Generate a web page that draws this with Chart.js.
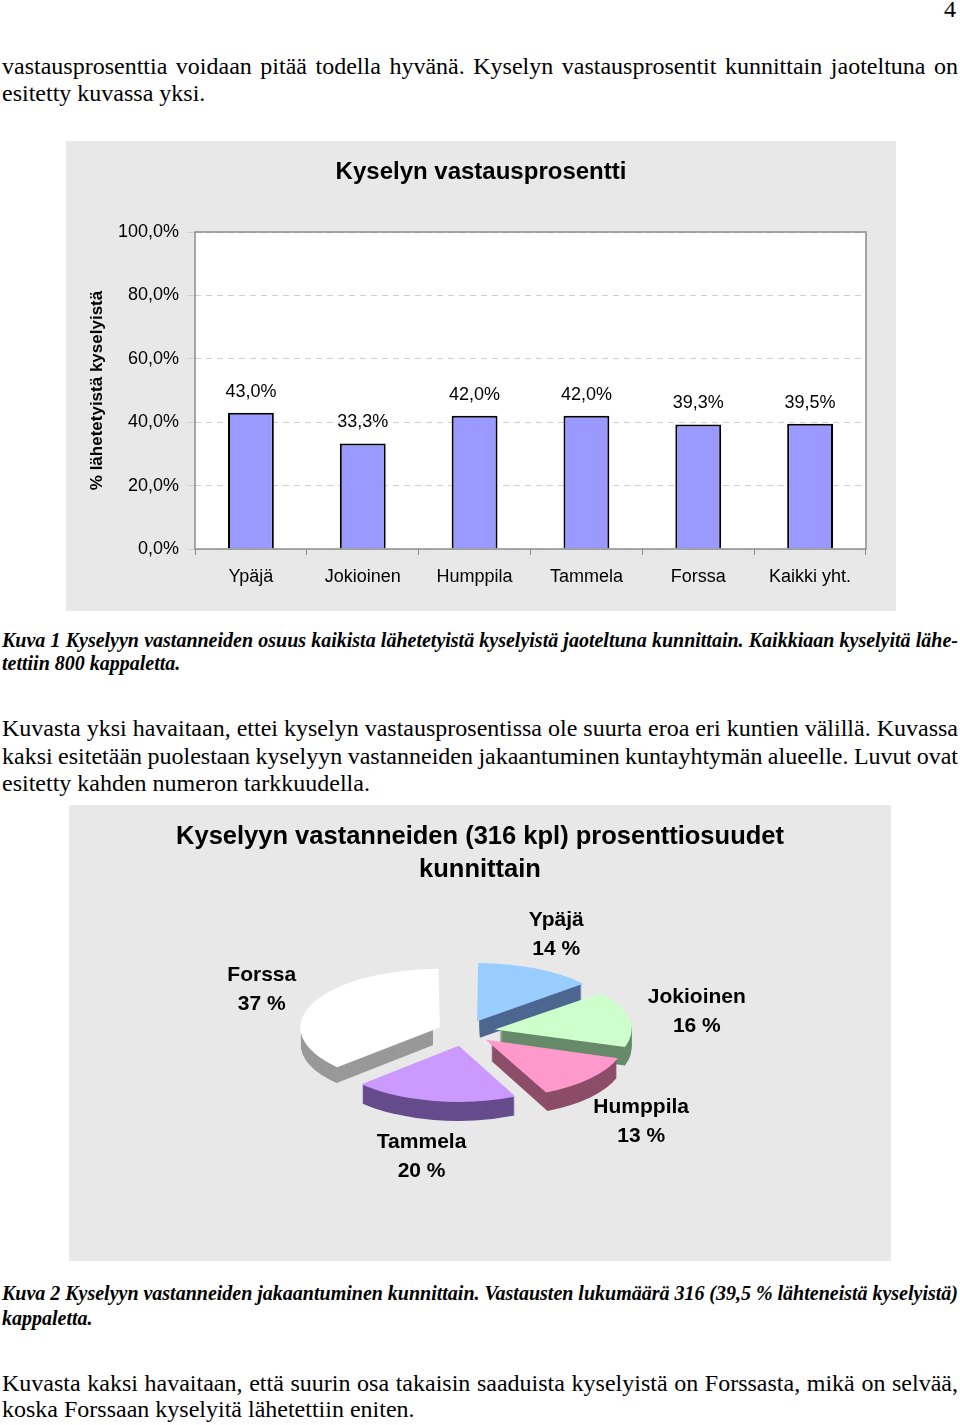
<!DOCTYPE html>
<html>
<head>
<meta charset="utf-8">
<script src="https://cdn.jsdelivr.net/npm/chart.js@4.4.1/dist/chart.umd.min.js"></script>
<style>
  body { margin: 0; background: #fff; width: 960px; height: 1425px; position: relative; overflow: hidden; }
  .ln { position: absolute; left: 2px; width: 956px; white-space: nowrap; font-family: "Liberation Serif", "Times New Roman", serif; font-size: 24px; line-height: 28px; color: #000; }
  .cap { font-size: 20px; line-height: 24px; font-weight: bold; font-style: italic; }
  .box { position: absolute; background: #e8e8e8; }
</style>
</head>
<body>
<div class="ln" style="top:-5px; left:auto; right:4px; width:auto;">4</div>
<div class="ln full" style="top:52px;">vastausprosenttia voidaan pitää todella hyvänä. Kyselyn vastausprosentit kunnittain jaoteltuna on</div>
<div class="ln" style="top:79px;">esitetty kuvassa yksi.</div>

<div class="box" style="left:66px; top:141px; width:830px; height:470px;"><canvas id="barChart" width="830" height="470"></canvas></div>

<div class="ln cap full" style="top:628px;">Kuva 1 Kyselyyn vastanneiden osuus kaikista lähetetyistä kyselyistä jaoteltuna kunnittain. Kaikkiaan kyselyitä lähe-</div>
<div class="ln cap" style="top:651px;">tettiin 800 kappaletta.</div>

<div class="ln full" style="top:714px;">Kuvasta yksi havaitaan, ettei kyselyn vastausprosentissa ole suurta eroa eri kuntien välillä. Kuvassa</div>
<div class="ln full" style="top:742px;">kaksi esitetään puolestaan kyselyyn vastanneiden jakaantuminen kuntayhtymän alueelle. Luvut ovat</div>
<div class="ln" style="top:769px;">esitetty kahden numeron tarkkuudella.</div>

<div class="box" style="left:69px; top:805px; width:822px; height:456px;"><canvas id="pieChart" width="822" height="456"></canvas></div>

<div class="ln cap full" style="top:1281px;">Kuva 2 Kyselyyn vastanneiden jakaantuminen kunnittain. Vastausten lukumäärä 316 (39,5 % lähteneistä kyselyistä)</div>
<div class="ln cap" style="top:1306px;">kappaletta.</div>

<div class="ln full" style="top:1369px;">Kuvasta kaksi havaitaan, että suurin osa takaisin saaduista kyselyistä on Forssasta, mikä on selvää,</div>
<div class="ln" style="top:1395px;">koska Forssaan kyselyitä lähetettiin eniten.</div>

<script>
// data for the bar chart
var barLabels = ['Ypäjä', 'Jokioinen', 'Humppila', 'Tammela', 'Forssa', 'Kaikki yht.'];
var barValues = [43.0, 33.3, 42.0, 42.0, 39.3, 39.5];
var yTicks = [0, 20, 40, 60, 80, 100];
var barTitle = ['Kyselyn vastausprosentti'];

// data for the pie chart
var pieLabels = ['Ypäjä', 'Jokioinen', 'Humppila', 'Tammela', 'Forssa'];
var pieValues = [14, 16, 13, 20, 37];
var pieTops = ['#99ccff', '#ccffcc', '#ff99cc', '#cc99ff', '#ffffff'];
var pieSides = ['#4c6790', '#678a6a', '#8c4d68', '#664c8c', '#999999'];
var pieTitle = ['Kyselyyn vastanneiden (316 kpl) prosenttiosuudet', 'kunnittain'];

// justify the full lines of text by adjusting word spacing
document.querySelectorAll('.ln.full').forEach(function(el) {
    var words = el.textContent.split(' ').length - 1;
    var range = document.createRange();
    range.selectNodeContents(el);
    var natural = range.getBoundingClientRect().width;
    el.style.wordSpacing = ((956 - natural) / words) + 'px';
});

function fmt(v) {
    return v.toFixed(1).replace('.', ',') + '%';
}

var sans = '"Liberation Sans", Arial, sans-serif';

// title centred over the whole gray box
function boxTitle(lines, size, firstY, step) {
    return {
        id: 'boxTitle',
        afterDraw: function(chart) {
            var ctx = chart.ctx;
            ctx.save();
            ctx.font = 'bold ' + size + 'px ' + sans;
            ctx.fillStyle = '#000';
            ctx.textAlign = 'center';
            ctx.textBaseline = 'middle';
            lines.forEach(function(t, i) {
                ctx.fillText(t, chart.width / 2, firstY + i * step);
            });
            ctx.restore();
        }
    };
}

// white plot area and gray frame
var plotFrame = {
    id: 'plotFrame',
    beforeDraw: function(chart) {
        var a = chart.chartArea, ctx = chart.ctx;
        ctx.save();
        ctx.fillStyle = '#ffffff';
        ctx.fillRect(a.left, a.top, a.right - a.left, a.bottom - a.top);
        ctx.restore();
    },
    afterDraw: function(chart) {
        var a = chart.chartArea, ctx = chart.ctx;
        ctx.save();
        ctx.strokeStyle = '#8c8c8c';
        ctx.lineWidth = 1.5;
        ctx.strokeRect(a.left, a.top, a.right - a.left, a.bottom - a.top);
        ctx.restore();
    }
};

// value labels above bars
var barValueLabels = {
    id: 'barValueLabels',
    afterDatasetsDraw: function(chart) {
        var ctx = chart.ctx;
        var meta = chart.getDatasetMeta(0);
        ctx.save();
        ctx.font = '18px ' + sans;
        ctx.fillStyle = '#000';
        ctx.textAlign = 'center';
        ctx.textBaseline = 'middle';
        meta.data.forEach(function(bar, i) {
            ctx.fillText(fmt(barValues[i]), bar.x, bar.y - 21);
        });
        ctx.restore();
    }
};

new Chart(document.getElementById('barChart'), {
    type: 'bar',
    data: {
        labels: barLabels,
        datasets: [{
            data: barValues,
            backgroundColor: '#9999ff',
            borderColor: '#000000',
            borderWidth: 2,
            borderSkipped: 'bottom',
            barPercentage: 0.41,
            categoryPercentage: 1
        }]
    },
    options: {
        responsive: false,
        animation: false,
        events: [],
        layout: { padding: { left: 0, right: 30, top: 91, bottom: 0 } },
        plugins: {
            legend: { display: false },
            tooltip: { enabled: false },
            title: { display: false }
        },
        scales: {
            x: {
                afterFit: function(s) { s.height = 62; },
                grid: { display: true, offset: true, drawOnChartArea: false, tickLength: 6, color: '#8c8c8c', lineWidth: 1 },
                border: { display: false },
                ticks: { color: '#000', font: { family: sans, size: 18 }, padding: 11 }
            },
            y: {
                min: 0,
                max: 100,
                afterFit: function(s) { s.width = 129; },
                afterBuildTicks: function(s) { s.ticks = yTicks.map(function(v) { return { value: v }; }); },
                grid: { color: '#cfcfcf', lineWidth: 1, tickLength: 8 },
                border: { display: false, dash: [6, 5] },
                ticks: { color: '#000', font: { family: sans, size: 18 }, padding: 8, callback: function(v) { return fmt(v); } },
                title: {
                    display: true,
                    text: '% lähetetyistä kyselyistä',
                    color: '#000',
                    font: { family: sans, size: 17, weight: 'bold', lineHeight: 1.2 },
                    padding: { top: 21, bottom: 0 }
                }
            }
        }
    },
    plugins: [plotFrame, barValueLabels, boxTitle(barTitle, 24, 31, 0)]
});

// pie geometry
var SQUASH = 0.42;
var DEPTH = 19;
var EXPLODE = 35;
var LABEL_GAP = 20;
var pieTotal = pieValues.reduce(function(a, b) { return a + b; }, 0);

// chart.js arc offset is applied as offset/4 * (2 - sin(circumference))
function arcShift(value) {
    var circ = value / pieTotal * Math.PI * 2;
    return 2 - Math.sin(Math.min(Math.PI, circ));
}

var pie3d = {
    id: 'pie3d',
    beforeDatasetsDraw: function(chart) {
        var ctx = chart.ctx;
        var meta = chart.getDatasetMeta(0);
        var cx = meta.data[0].x, cy = meta.data[0].y;
        ctx.save();
        // side walls
        for (var d = DEPTH; d >= 1; d--) {
            meta.data.forEach(function(arc, i) {
                var mid = (arc.startAngle + arc.endAngle) / 2;
                ctx.save();
                ctx.translate(0, d);
                ctx.translate(cx, cy);
                ctx.scale(1, SQUASH);
                ctx.translate(-cx, -cy);
                ctx.translate(Math.cos(mid) * EXPLODE, Math.sin(mid) * EXPLODE);
                ctx.beginPath();
                ctx.moveTo(arc.x, arc.y);
                ctx.arc(arc.x, arc.y, arc.outerRadius, arc.startAngle, arc.endAngle);
                ctx.closePath();
                ctx.fillStyle = pieSides[i];
                ctx.fill();
                ctx.restore();
            });
        }
        // squash the top faces
        ctx.translate(cx, cy);
        ctx.scale(1, SQUASH);
        ctx.translate(-cx, -cy);
    },
    afterDatasetsDraw: function(chart) {
        chart.ctx.restore();
    },
    afterDraw: function(chart) {
        var ctx = chart.ctx;
        var meta = chart.getDatasetMeta(0);
        ctx.save();
        ctx.font = 'bold 21px ' + sans;
        ctx.fillStyle = '#000';
        ctx.textAlign = 'center';
        ctx.textBaseline = 'middle';
        meta.data.forEach(function(arc, i) {
            var mid = (arc.startAngle + arc.endAngle) / 2;
            var c = Math.cos(mid), s = Math.sin(mid);
            var r = arc.outerRadius + EXPLODE + LABEL_GAP;
            var px = arc.x + c * r;
            var py = arc.y + s * r * SQUASH + (s > 0 ? DEPTH : 0);
            var pct = Math.round(pieValues[i] / pieTotal * 100) + ' %';
            var w = Math.max(ctx.measureText(pieLabels[i]).width, ctx.measureText(pct).width);
            var lx = px + c * w / 2;
            var ly = py + s * 29;
            ctx.fillText(pieLabels[i], lx, ly - 14.5);
            ctx.fillText(pct, lx, ly + 14.5);
        });
        ctx.restore();
    }
};

new Chart(document.getElementById('pieChart'), {
    type: 'pie',
    data: {
        labels: pieLabels,
        datasets: [{
            data: pieValues,
            backgroundColor: pieTops,
            borderWidth: 0,
            radius: 132,
            clip: false,
            offset: function(c) { return 4 * EXPLODE / arcShift(pieValues[c.dataIndex]); }
        }]
    },
    options: {
        responsive: false,
        animation: false,
        events: [],
        layout: { padding: { left: 0, right: 30, top: 0, bottom: 2 } },
        plugins: {
            legend: { display: false },
            tooltip: { enabled: false },
            title: { display: false }
        }
    },
    plugins: [pie3d, boxTitle(pieTitle, 25.5, 32, 33)]
});
</script>
</body>
</html>
